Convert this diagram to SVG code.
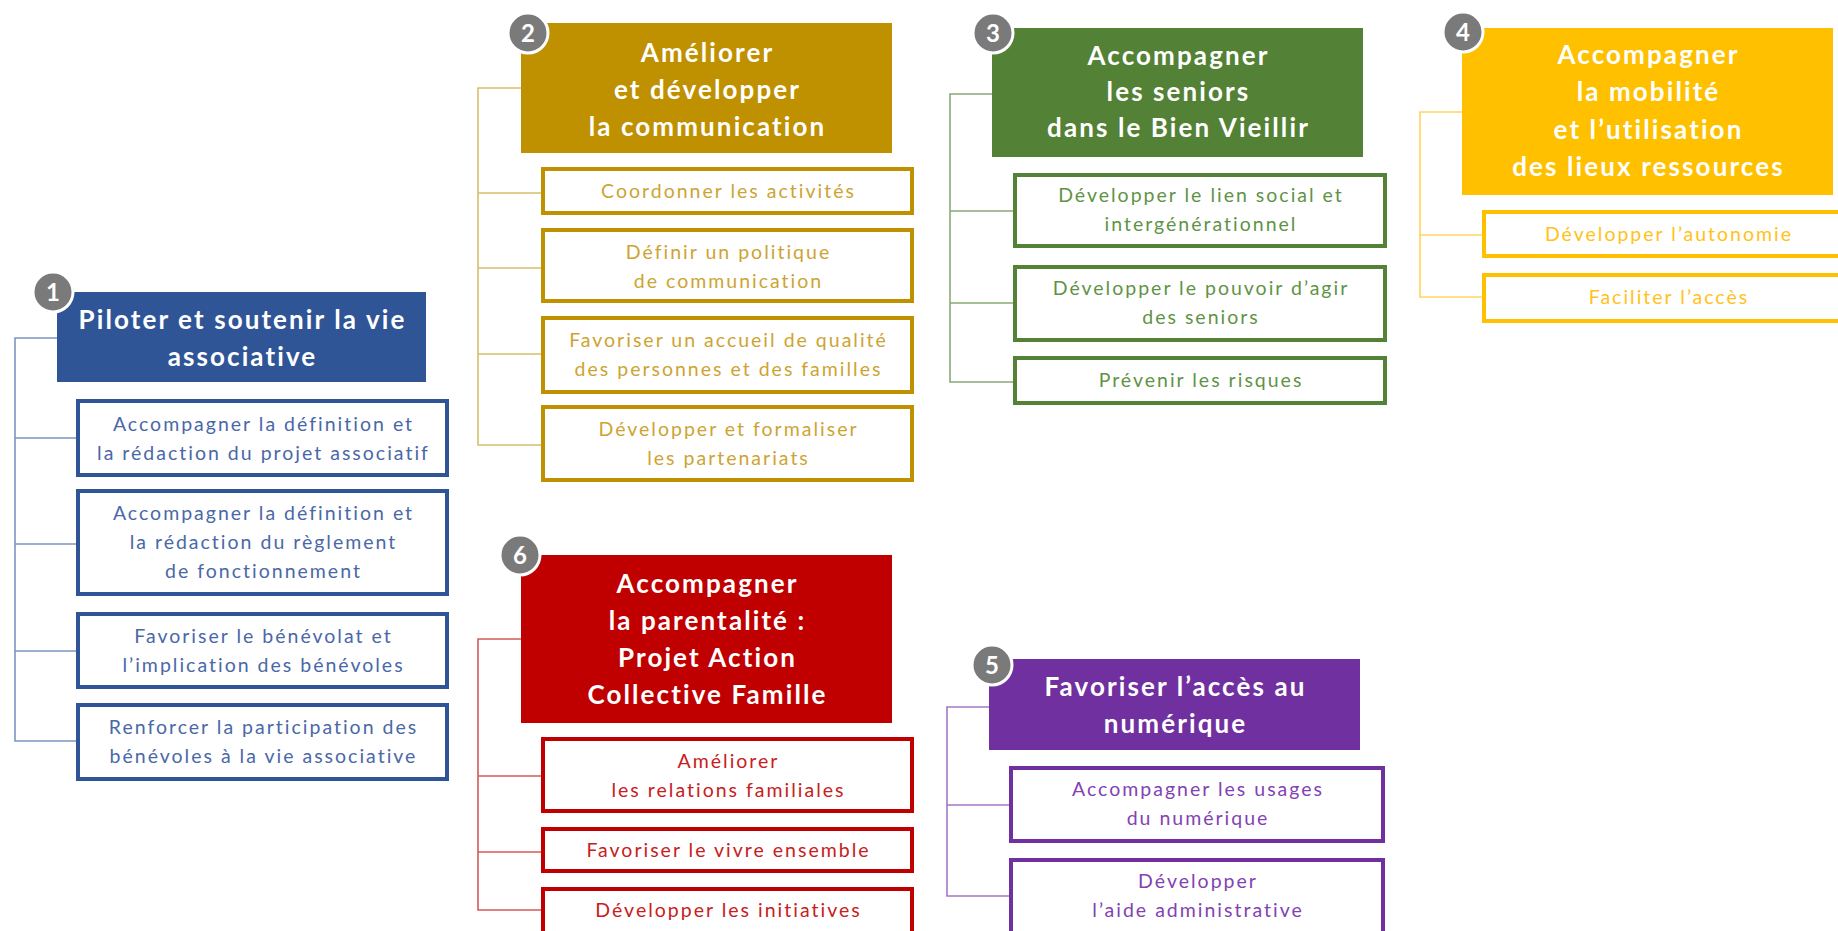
<svg xmlns="http://www.w3.org/2000/svg" width="1838" height="931" viewBox="0 0 1838 931">
<style>
.hd{font-family:Lato,"Liberation Sans",sans-serif;font-weight:bold;font-size:26px;fill:#fff;text-anchor:middle;letter-spacing:2.1px}
.ct{font-family:Lato,"Liberation Sans",sans-serif;font-size:19.5px;text-anchor:middle;letter-spacing:2px}
.bx{fill:#fff;stroke-width:4}
.cn{fill:none;stroke-width:1.6}
.bd circle{fill:#7a7a7a;stroke:#fff;stroke-width:3}
.bd text{font-family:Lato,"Liberation Sans",sans-serif;font-weight:bold;font-size:24px;fill:#fff;text-anchor:middle}
.blue{stroke:#2F5597}.gold{stroke:#BF9000}.green{stroke:#538135}.yel{stroke:#FFC000}.pur{stroke:#7030A0}.red{stroke:#C00000}
</style>
<rect width="1838" height="931" fill="#fff"/>
<g id="connectors">
<path class="cn" stroke="#7d94c4" d="M57,338H15V741H76M15,438H76M15,544H76M15,651H76"/>
<path class="cn" stroke="#d8bd6a" d="M521,88H478V445H541M478,193H541M478,268H541M478,354H541"/>
<path class="cn" stroke="#8aaa78" d="M992,94H950V382H1013M950,211H1013M950,303H1013"/>
<path class="cn" stroke="#ffd560" d="M1462,112H1420V297H1482M1420,235H1482"/>
<path class="cn" stroke="#a478c4" d="M989,707H947V896H1009M947,805H1009"/>
<path class="cn" stroke="#d45a5a" d="M521,639H478V910H541M478,776H541M478,852H541"/>
</g>
<g id="node1">
<rect x="57" y="292" width="369" height="90" fill="#2F5597"/>
<text class="hd"><tspan x="242.5" y="329">Piloter et soutenir la vie</tspan><tspan x="242.5" y="366">associative</tspan></text>
<g class="bd"><circle cx="53" cy="292" r="20"/><text x="53" y="301">1</text></g>
</g>
<g id="node1a"><rect class="bx blue" x="78" y="401" width="369" height="74"/>
<text class="ct" fill="#4a68a8"><tspan x="263.5" y="431">Accompagner la définition et</tspan><tspan x="263.5" y="460">la rédaction du projet associatif</tspan></text></g>
<g id="node1b"><rect class="bx blue" x="78" y="491" width="369" height="103"/>
<text class="ct" fill="#4a68a8"><tspan x="263.5" y="520">Accompagner la définition et</tspan><tspan x="263.5" y="549">la rédaction du règlement</tspan><tspan x="263.5" y="578">de fonctionnement</tspan></text></g>
<g id="node1c"><rect class="bx blue" x="78" y="614" width="369" height="73"/>
<text class="ct" fill="#4a68a8"><tspan x="263.5" y="643">Favoriser le bénévolat et</tspan><tspan x="263.5" y="672">l’implication des bénévoles</tspan></text></g>
<g id="node1d"><rect class="bx blue" x="78" y="705" width="369" height="74"/>
<text class="ct" fill="#4a68a8"><tspan x="263.5" y="734">Renforcer la participation des</tspan><tspan x="263.5" y="763">bénévoles à la vie associative</tspan></text></g>

<g id="node2">
<rect x="521" y="23" width="371" height="130" fill="#BF9000"/>
<text class="hd"><tspan x="707.5" y="62">Améliorer</tspan><tspan x="707.5" y="99">et développer</tspan><tspan x="707.5" y="136">la communication</tspan></text>
<g class="bd"><circle cx="528" cy="33" r="20"/><text x="528" y="42">2</text></g>
</g>
<g id="node2a"><rect class="bx gold" x="543" y="169" width="369" height="44"/>
<text class="ct" fill="#cda433"><tspan x="728.5" y="198">Coordonner les activités</tspan></text></g>
<g id="node2b"><rect class="bx gold" x="543" y="230" width="369" height="71"/>
<text class="ct" fill="#cda433"><tspan x="728.5" y="259">Définir un politique</tspan><tspan x="728.5" y="288">de communication</tspan></text></g>
<g id="node2c"><rect class="bx gold" x="543" y="318" width="369" height="74"/>
<text class="ct" fill="#cda433"><tspan x="728.5" y="347">Favoriser un accueil de qualité</tspan><tspan x="728.5" y="376">des personnes et des familles</tspan></text></g>
<g id="node2d"><rect class="bx gold" x="543" y="407" width="369" height="73"/>
<text class="ct" fill="#cda433"><tspan x="728.5" y="436">Développer et formaliser</tspan><tspan x="728.5" y="465">les partenariats</tspan></text></g>

<g id="node3">
<rect x="992" y="28" width="371" height="129" fill="#538135"/>
<text class="hd"><tspan x="1178.5" y="65">Accompagner</tspan><tspan x="1178.5" y="101">les seniors</tspan><tspan x="1178.5" y="137">dans le Bien Vieillir</tspan></text>
<g class="bd"><circle cx="993" cy="33" r="20"/><text x="993" y="42">3</text></g>
</g>
<g id="node3a"><rect class="bx green" x="1015" y="175" width="370" height="71"/>
<text class="ct" fill="#5f9346"><tspan x="1201" y="202">Développer le lien social et</tspan><tspan x="1201" y="231">intergénérationnel</tspan></text></g>
<g id="node3b"><rect class="bx green" x="1015" y="267" width="370" height="73"/>
<text class="ct" fill="#5f9346"><tspan x="1201" y="295">Développer le pouvoir d’agir</tspan><tspan x="1201" y="324">des seniors</tspan></text></g>
<g id="node3c"><rect class="bx green" x="1015" y="358" width="370" height="45"/>
<text class="ct" fill="#5f9346"><tspan x="1201" y="387">Prévenir les risques</tspan></text></g>

<g id="node4">
<rect x="1462" y="28" width="371" height="167" fill="#FFC000"/>
<text class="hd"><tspan x="1648.5" y="64">Accompagner</tspan><tspan x="1648.5" y="101">la mobilité</tspan><tspan x="1648.5" y="139">et l’utilisation</tspan><tspan x="1648.5" y="176">des lieux ressources</tspan></text>
<g class="bd"><circle cx="1463" cy="32" r="20"/><text x="1463" y="41">4</text></g>
</g>
<g id="node4a"><rect class="bx yel" x="1484" y="212" width="368" height="44"/>
<text class="ct" fill="#ffc21a"><tspan x="1669" y="241">Développer l’autonomie</tspan></text></g>
<g id="node4b"><rect class="bx yel" x="1484" y="275" width="368" height="46"/>
<text class="ct" fill="#ffc21a"><tspan x="1669" y="304">Faciliter l’accès</tspan></text></g>

<g id="node5">
<rect x="989" y="659" width="371" height="91" fill="#7030A0"/>
<text class="hd"><tspan x="1175.5" y="696">Favoriser l’accès au</tspan><tspan x="1175.5" y="733">numérique</tspan></text>
<g class="bd"><circle cx="992" cy="665" r="20"/><text x="992" y="674">5</text></g>
</g>
<g id="node5a"><rect class="bx pur" x="1011" y="768" width="372" height="73"/>
<text class="ct" fill="#8242b2"><tspan x="1198" y="796">Accompagner les usages</tspan><tspan x="1198" y="825">du numérique</tspan></text></g>
<g id="node5b"><rect class="bx pur" x="1011" y="860" width="372" height="80"/>
<text class="ct" fill="#8242b2"><tspan x="1198" y="888">Développer</tspan><tspan x="1198" y="917">l’aide administrative</tspan></text></g>

<g id="node6">
<rect x="521" y="555" width="371" height="168" fill="#C00000"/>
<text class="hd"><tspan x="707.5" y="593">Accompagner</tspan><tspan x="707.5" y="630">la parentalité :</tspan><tspan x="707.5" y="667">Projet Action</tspan><tspan x="707.5" y="704">Collective Famille</tspan></text>
<g class="bd"><circle cx="520" cy="555" r="20"/><text x="520" y="564">6</text></g>
</g>
<g id="node6a"><rect class="bx red" x="543" y="739" width="369" height="72"/>
<text class="ct" fill="#c82020"><tspan x="728.5" y="768">Améliorer</tspan><tspan x="728.5" y="797">les relations familiales</tspan></text></g>
<g id="node6b"><rect class="bx red" x="543" y="829" width="369" height="42"/>
<text class="ct" fill="#c82020"><tspan x="728.5" y="857">Favoriser le vivre ensemble</tspan></text></g>
<g id="node6c"><rect class="bx red" x="543" y="889" width="369" height="60"/>
<text class="ct" fill="#c82020"><tspan x="728.5" y="917">Développer les initiatives</tspan></text></g>
</svg>
